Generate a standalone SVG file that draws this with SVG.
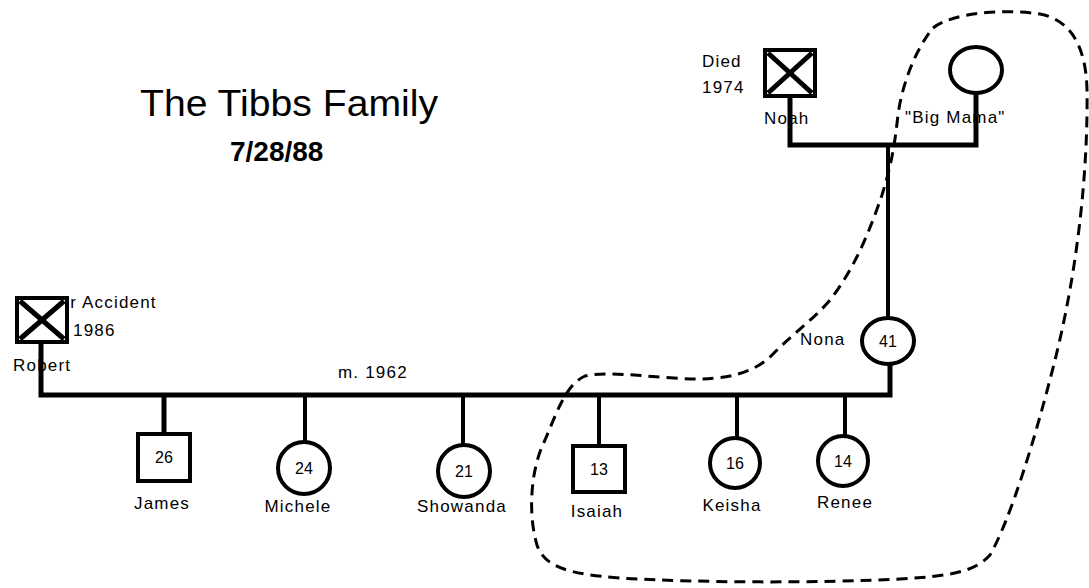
<svg xmlns="http://www.w3.org/2000/svg" width="1089" height="588" viewBox="0 0 1089 588">
<style>
.ln{stroke:#000;stroke-width:4;fill:none}
.thick{stroke:#000;stroke-width:5;fill:none}
.shape{stroke:#000;stroke-width:4;fill:#fff}
.lbl{font-family:"Liberation Sans",Arial,sans-serif;font-size:17px;letter-spacing:1.2px;fill:#000}
.num{font-family:"Liberation Sans",Arial,sans-serif;font-size:16px;fill:#000;text-anchor:middle}
.mid{text-anchor:middle}
.dash{stroke:#000;stroke-width:3;fill:none;stroke-dasharray:11 7}
</style>
<rect width="1089" height="588" fill="#fff"/>

<g id="connectors">
  <polyline class="thick" points="41,343 41,395 890,395 890,365"/>
  <line class="thick" x1="164" y1="395" x2="164" y2="434"/>
  <line class="ln" x1="305" y1="395" x2="305" y2="442"/>
  <line class="ln" x1="463" y1="395" x2="463" y2="445"/>
  <line class="ln" x1="599" y1="395" x2="599" y2="445"/>
  <line class="ln" x1="737" y1="395" x2="737" y2="438"/>
  <line class="ln" x1="845" y1="395" x2="845" y2="435"/>
  <line class="ln" x1="888" y1="143" x2="888" y2="318"/>
  <polyline class="thick" points="790,98 790,145 976,145 976,93"/>
</g>

<g id="title">
  <text x="140" y="116" font-family="Liberation Sans,Arial,sans-serif" font-size="36" textLength="298" lengthAdjust="spacingAndGlyphs">The Tibbs Family</text>
  <text x="230" y="161" font-family="Liberation Sans,Arial,sans-serif" font-size="28" font-weight="bold">7/28/88</text>
</g>

<g id="robert">
  <text class="lbl" x="46" y="308">Car Accident</text>
  <text class="lbl" x="73" y="336">1986</text>
  <rect class="shape" x="17" y="298" width="50" height="44" stroke-width="5"/>
  <line class="thick" x1="20" y1="301" x2="64" y2="339"/>
  <line class="thick" x1="64" y1="301" x2="20" y2="339"/>
  <text class="lbl" x="13" y="371">Robert</text>
</g>

<text id="marriage" class="lbl" x="338" y="378">m. 1962</text>

<g id="noah">
  <text class="lbl" x="702" y="67">Died</text>
  <text class="lbl" x="702" y="93">1974</text>
  <rect class="shape" x="765" y="50" width="50" height="46" stroke-width="5"/>
  <line class="thick" x1="768" y1="53" x2="812" y2="93"/>
  <line class="thick" x1="812" y1="53" x2="768" y2="93"/>
  <text class="lbl" x="764" y="124">Noah</text>
</g>

<g id="bigmama">
  <ellipse class="shape" cx="976" cy="70" rx="26" ry="23"/>
  <text class="lbl" x="905" y="123">"Big Mama"</text>
</g>

<g id="nona">
  <ellipse class="shape" cx="888" cy="341" rx="26" ry="23"/>
  <text class="num" x="888" y="347">41</text>
  <text class="lbl" x="800" y="345">Nona</text>
</g>

<g id="james">
  <rect class="shape" x="138" y="434" width="52" height="47"/>
  <text class="num" x="164" y="463">26</text>
  <text class="lbl mid" x="162" y="509">James</text>
</g>

<g id="michele">
  <circle class="shape" cx="304" cy="468" r="26"/>
  <text class="num" x="304" y="474">24</text>
  <text class="lbl mid" x="298" y="512">Michele</text>
</g>

<g id="showanda">
  <circle class="shape" cx="464" cy="471" r="26"/>
  <text class="num" x="464" y="477">21</text>
  <text class="lbl mid" x="462" y="512">Showanda</text>
</g>

<g id="isaiah">
  <rect class="shape" x="573" y="446" width="52" height="46"/>
  <text class="num" x="599" y="475">13</text>
  <text class="lbl mid" x="597" y="517">Isaiah</text>
</g>

<g id="keisha">
  <circle class="shape" cx="735" cy="463" r="25"/>
  <text class="num" x="735" y="469">16</text>
  <text class="lbl mid" x="732" y="511">Keisha</text>
</g>

<g id="renee">
  <circle class="shape" cx="843" cy="461" r="25"/>
  <text class="num" x="843" y="467">14</text>
  <text class="lbl mid" x="845" y="508">Renee</text>
</g>

<path id="boundary" class="dash" d="M933,28 C950,14 1000,8 1040,14 C1070,20 1086,45 1087,90 C1088,160 1080,260 1055,360 C1035,440 1010,520 990,555 C975,572 950,576 900,579 C820,583 700,583 620,578 C570,574 545,568 537,545 C528,515 530,470 545,440 C556,415 565,385 585,376 C610,370 660,379 700,379 C740,378 760,368 775,352 C795,332 815,318 830,300 C855,268 870,230 882,195 C893,160 895,140 898,115 C902,85 915,50 933,28 Z"/>
</svg>
